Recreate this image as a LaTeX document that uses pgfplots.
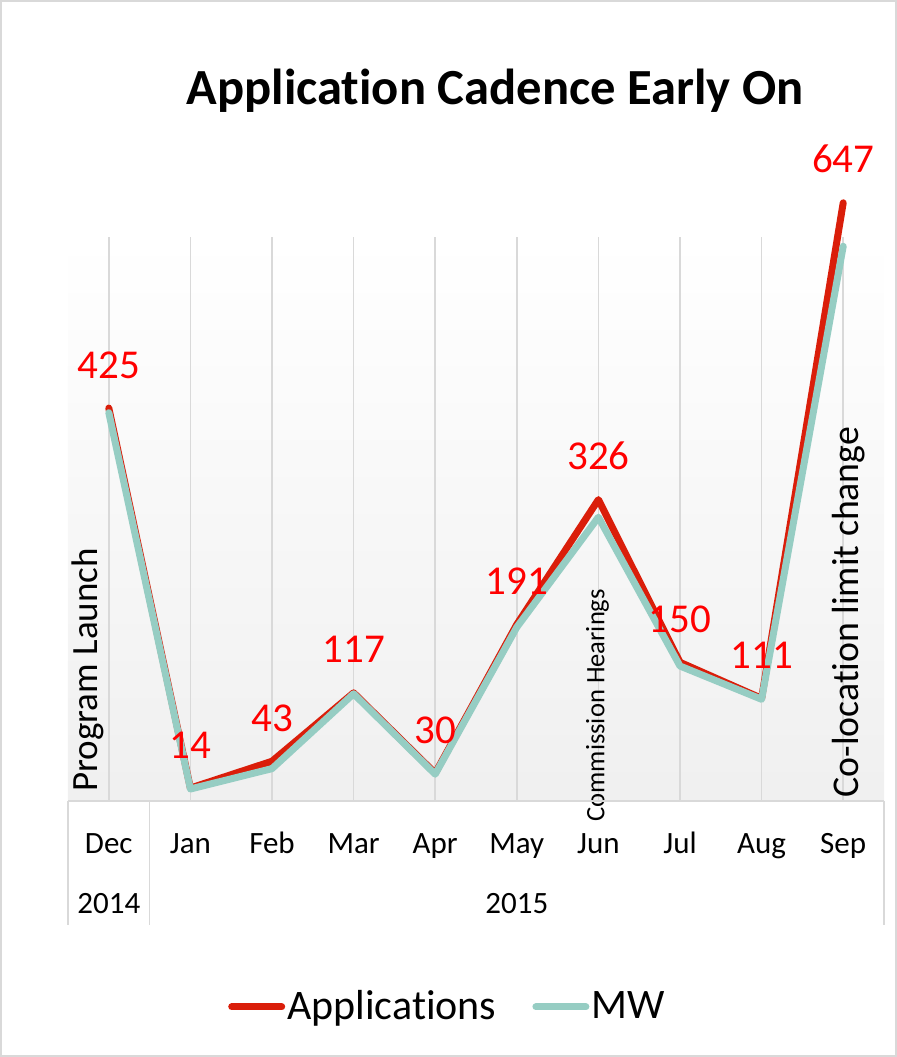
\documentclass[border=0pt]{standalone}
\usepackage{pgfplots}
\pgfplotsset{compat=1.18}
\usepackage{fontspec}
\setmainfont{Carlito}[Ligatures=NoCommon]
\definecolor{appred}{RGB}{218,30,10}
\definecolor{mwteal}{RGB}{150,205,195}
\definecolor{gridc}{RGB}{217,217,217}
\definecolor{lblred}{RGB}{255,0,0}
\begin{document}
\begin{tikzpicture}
\begin{axis}[name=ax, width=408pt, height=282pt, scale only axis,
  xmin=-0.5, xmax=9.5, ymin=0, ymax=610, clip=false,
  xtick={0,1,2,3,4,5,6,7,8,9},
  xticklabels={Dec,Jan,Feb,Mar,Apr,May,Jun,Jul,Aug,Sep},
  xticklabel style={font=\fontsize{15.5}{18}\selectfont, anchor=base, yshift=-26pt, inner sep=0pt},
  ytick=\empty, xmajorgrids, major grid style={gridc, line width=0.75pt},
  major tick length=0pt, axis line style={draw=none},
  axis background/.style={shade, top color=white, bottom color=black!6},
  /pgf/number format/assume math mode=true,
  legend style={at={(0.465,-0.365)}, anchor=center, draw=none, fill=none,
    legend columns=2, font=\fontsize{21}{25}\selectfont,
    nodes={inner xsep=1pt},
    /tikz/every even column/.append style={column sep=17pt}},
  legend image code/.code={\draw[#1, line cap=round] (0pt,0pt) -- (25pt,0pt);},
]
\addplot[appred, line width=3.5pt, line join=round, line cap=round]
  coordinates {(0,425)(1,14)(2,43)(3,117)(4,30)(5,191)(6,326)(7,150)(8,111)(9,647)};
\addlegendentry{Applications}
\addplot[mwteal, line width=3.5pt, line join=round, line cap=round]
  coordinates {(0,420)(1,13)(2,35)(3,116)(4,29)(5,188)(6,307)(7,146)(8,110)(9,600)};
\addlegendentry{MW}
\addplot[draw=none, forget plot, nodes near coords,
  every node near coord/.append style={font=\fontsize{20.5}{24}\selectfont, text=lblred, anchor=base, yshift=15pt, inner sep=0pt}]
  coordinates {(0,425)(1,14)(2,43)(3,117)(4,30)(5,191)(6,326)(7,150)(8,111)(9,647)};
% annotations
\node[rotate=90, anchor=base west, inner sep=0pt, font=\fontsize{18.5}{22}\selectfont] at ([xshift=-5.5pt,yshift=4.5pt]axis cs:0,0) {Program Launch};
\node[rotate=90, anchor=base west, inner sep=0pt, font=\fontsize{13.3}{16}\selectfont] at ([xshift=3pt,yshift=-10.5pt]axis cs:6,0) {Commission Hearings};
\node[rotate=90, anchor=base west, inner sep=0pt, font=\fontsize{18.9}{22}\selectfont] at ([xshift=7.5pt,yshift=1.5pt]axis cs:9,0) {Co-location limit change};
% category table
\draw[gridc, line width=0.75pt] (rel axis cs:0,0) -- (rel axis cs:1,0);
\draw[gridc, line width=0.75pt] (rel axis cs:0,0) -- ([yshift=-62pt]rel axis cs:0,0);
\draw[gridc, line width=0.75pt] (axis cs:0.5,0) -- ([yshift=-62pt]axis cs:0.5,0);
\draw[gridc, line width=0.75pt] (rel axis cs:1,0) -- ([yshift=-62pt]rel axis cs:1,0);
\node[anchor=base, inner sep=0pt, font=\fontsize{15.5}{18}\selectfont] at ([yshift=-56pt]axis cs:0,0) {2014};
\node[anchor=base, inner sep=0pt, font=\fontsize{15.5}{18}\selectfont] at ([yshift=-56pt]axis cs:5,0) {2015};
\end{axis}
\node[anchor=base, font=\bfseries\fontsize{25.3}{30}\selectfont] at ([xshift=213.5pt,yshift=348pt]ax.south west) {Application Cadence Early On};
\draw[gridc, line width=1pt] ([xshift=-33.5pt,yshift=-127.5pt]ax.south west) rectangle ([xshift=414pt,yshift=400pt]ax.south west);
\pgfresetboundingbox
\useasboundingbox ([xshift=-34pt,yshift=-128pt]ax.south west) rectangle ([xshift=414.5pt,yshift=400.5pt]ax.south west);
\end{tikzpicture}
\end{document}
